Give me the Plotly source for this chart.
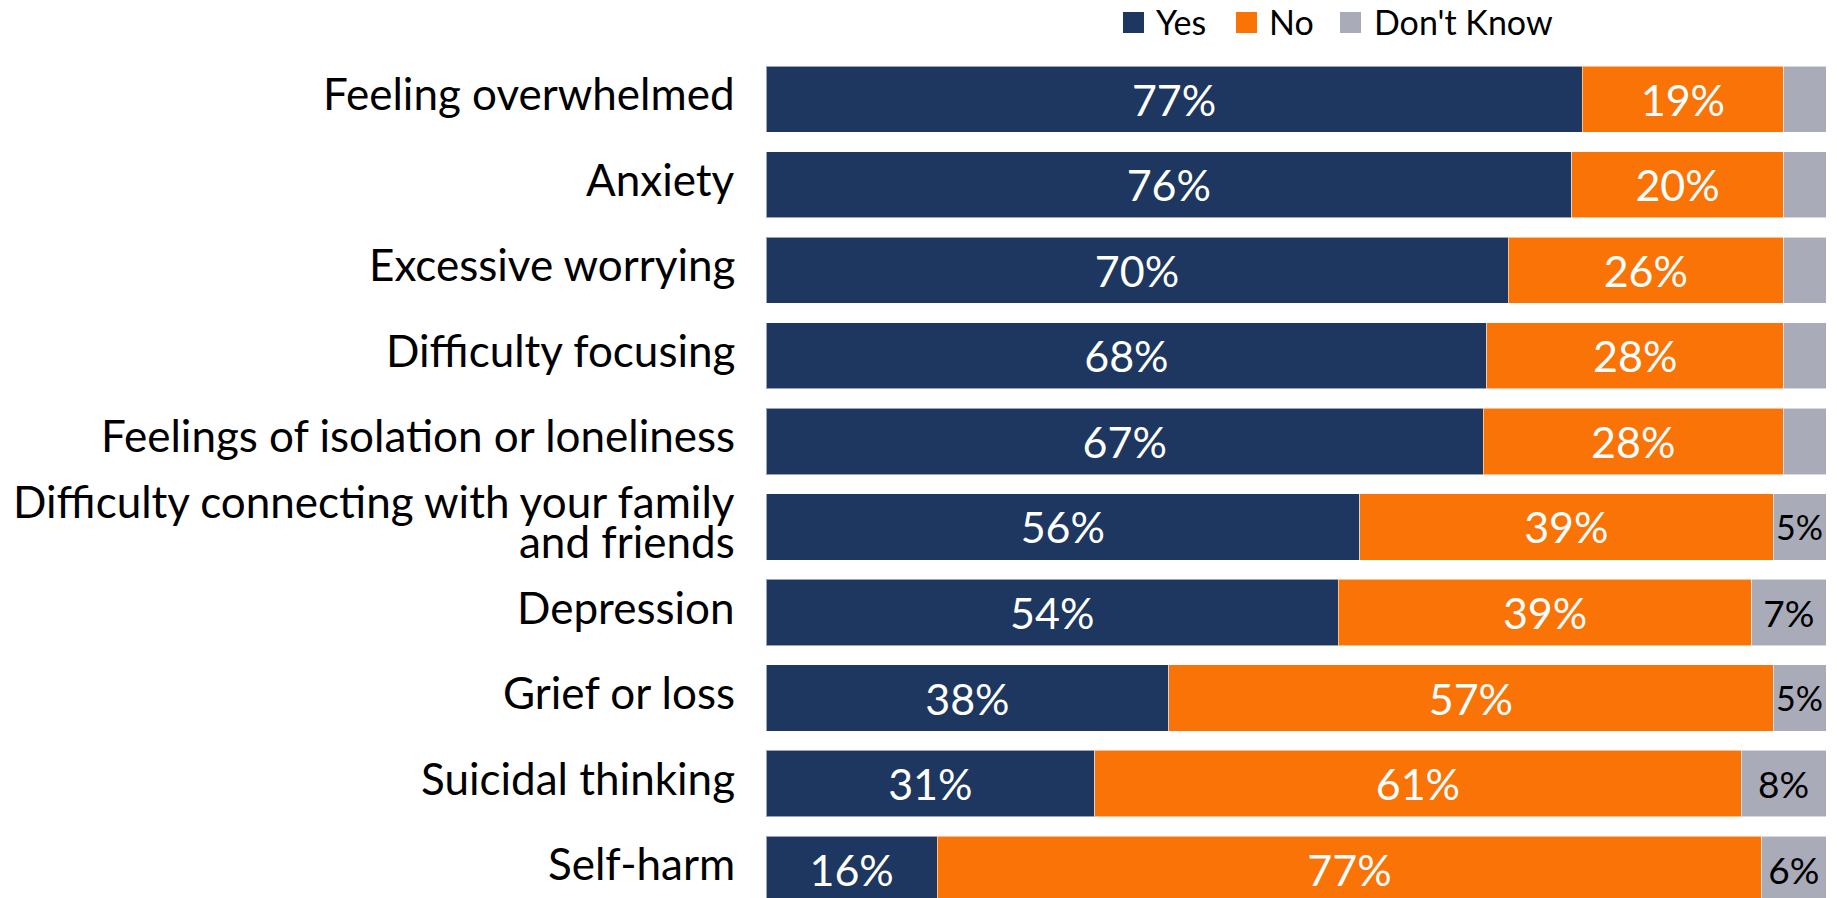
import plotly.graph_objects as go

# Survey items, listed top to bottom
categories = [
    "Feeling overwhelmed",
    "Anxiety",
    "Excessive worrying",
    "Difficulty focusing",
    "Feelings of isolation or loneliness",
    "Difficulty connecting with your family<br>and friends",
    "Depression",
    "Grief or loss",
    "Suicidal thinking",
    "Self-harm",
]

yes_pct = [77, 76, 70, 68, 67, 56, 54, 38, 31, 16]
no_pct = [19, 20, 26, 28, 28, 39, 39, 57, 61, 77]
dont_know_pct = [4, 4, 4, 4, 4, 5, 7, 5, 8, 6]
# the small "Don't Know" shares in the top rows carry no label
dont_know_labelled = [False, False, False, False, False, True, True, True, True, True]

series_names = ["Yes", "No", "Don't Know"]
series_colors = ["#1E3760", "#F97306", "#A9ABB8"]

FONT = "Lato"
W, H = 1837, 898
L, R, T, B = 766, 11, 0, 0
plot_w = W - L - R
plot_h = H - T - B

fig = go.Figure()

common = dict(
    orientation="h",
    y=categories,
    textposition="inside",
    insidetextanchor="middle",
    textangle=0,
    showlegend=False,
    hoverinfo="skip",
)
edge = dict(color="rgba(255,255,255,0.55)", width=1)

fig.add_trace(go.Bar(
    name=series_names[0], x=yes_pct, text=yes_pct, texttemplate="%{text}%",
    marker=dict(color=series_colors[0], line=edge),
    textfont=dict(family=FONT, size=43, color="white"),
    **common,
))
fig.add_trace(go.Bar(
    name=series_names[1], x=no_pct, text=no_pct, texttemplate="%{text}%",
    marker=dict(color=series_colors[1], line=edge),
    textfont=dict(family=FONT, size=43, color="white"),
    **common,
))
fig.add_trace(go.Bar(
    name=series_names[2], x=dont_know_pct,
    text=[f"{v}%" if show else "" for v, show in zip(dont_know_pct, dont_know_labelled)],
    texttemplate="%{text}",
    marker=dict(color=series_colors[2], line=edge),
    textfont=dict(family=FONT, size=37, color="black"),
    **common,
))

# Category labels, right-aligned left of the bars; wrapped labels get a tight line gap
label_right = 737
line_gap = 40
for cat in categories:
    lines = cat.split("<br>")
    k = len(lines)
    for i, line in enumerate(lines):
        fig.add_annotation(
            xref="paper", yref="y",
            x=(label_right - L) / plot_w, y=cat,
            text=line, showarrow=False, xanchor="right", yanchor="middle",
            yshift=6 + ((k - 1) / 2 - i) * line_gap,
            font=dict(family=FONT, size=44, color="black"),
        )

# Legend: coloured squares with labels along the top
legend_items = [  # (square left px, text left px)
    (1123, 1154),
    (1236, 1267),
    (1340, 1372),
]
sq = 21
sq_top = 12
for (sx, tx), name, col in zip(legend_items, series_names, series_colors):
    fig.add_shape(
        type="rect", xref="paper", yref="paper",
        x0=(sx - L) / plot_w, x1=(sx + sq - L) / plot_w,
        y0=1 - (sq_top + sq - T) / plot_h, y1=1 - (sq_top - T) / plot_h,
        fillcolor=col, line=dict(width=0),
    )
    fig.add_annotation(
        xref="paper", yref="paper",
        x=(tx - L) / plot_w, y=1 - (sq_top + sq / 2 - 1 - T) / plot_h,
        text=name, showarrow=False, xanchor="left", yanchor="middle",
        font=dict(family=FONT, size=34, color="black"),
    )

fig.update_layout(
    width=W, height=H,
    barmode="stack", barnorm="percent", bargap=0.225,
    margin=dict(l=L, r=R, t=T, b=B, pad=0),
    paper_bgcolor="white", plot_bgcolor="white",
    xaxis=dict(range=[0, 100], visible=False, fixedrange=True),
    yaxis=dict(
        type="category", range=[9.337, -1.159],
        showgrid=False, zeroline=False, showline=False, ticks="",
        showticklabels=False, automargin=False, fixedrange=True,
    ),
    font=dict(family=FONT),
)

fig.write_html("out.html")
